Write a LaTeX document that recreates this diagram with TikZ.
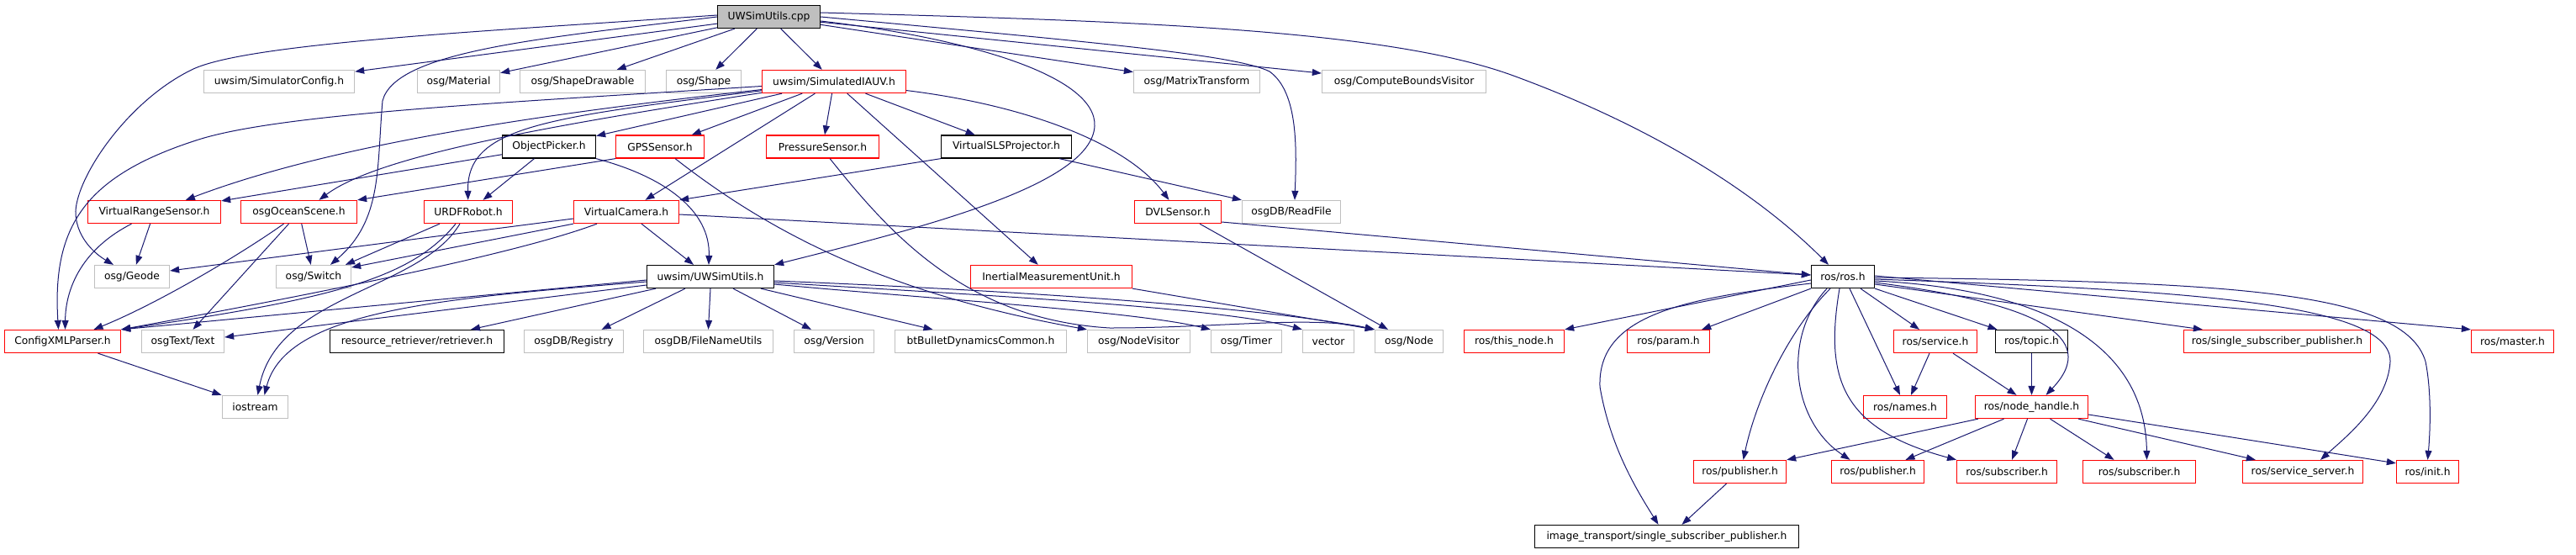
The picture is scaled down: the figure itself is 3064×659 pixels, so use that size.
\documentclass[tikz,border=0pt]{standalone}
\usepackage{fontspec}
\setmainfont{DejaVu Sans}
\usetikzlibrary{arrows.meta}
\definecolor{edgeblue}{HTML}{191970}
\definecolor{boxgray}{HTML}{BFBFBF}
\begin{document}
\begin{tikzpicture}[x=1pt,y=-1pt,
  box/.style={draw, line width=1.3pt, minimum height=27pt, inner sep=0pt, font=\fontsize{12.3}{14}\selectfont, anchor=center},
  redbox/.style={box, draw=red},
  graybox/.style={box, draw=boxgray},
  blackbox/.style={box, draw=black},
  rootbox/.style={box, draw=black, fill=boxgray},
  e/.style={draw=edgeblue, line width=1pt, -{Triangle[length=11pt,width=8pt]}}]
\fill[white] (0,0) rectangle (3064,659);
\useasboundingbox (0,0) rectangle (3064,659);
% row 1
\node[rootbox, minimum width=122pt] (cpp) at (914.5,20) {UWSimUtils.cpp};
% row 2
\node[graybox, minimum width=179pt] (simcfg) at (332,97) {uwsim/SimulatorConfig.h};
\node[graybox, minimum width=98pt] (material) at (545.5,97) {osg/Material};
\node[graybox, minimum width=149pt] (shapedraw) at (693,97) {osg/ShapeDrawable};
\node[graybox, minimum width=89pt] (shape) at (837,97) {osg/Shape};
\node[redbox, minimum width=171pt] (iauv) at (992,97) {uwsim/SimulatedIAUV.h};
\node[graybox, minimum width=150pt] (matrix) at (1423.5,97) {osg/MatrixTransform};
\node[graybox, minimum width=195pt] (cbv) at (1670,97) {osg/ComputeBoundsVisitor};
% row 3
\node[blackbox, minimum width=111pt] (picker) at (653,174.5) {ObjectPicker.h};
\node[redbox, minimum width=105pt] (gps) at (785,174.5) {GPSSensor.h};
\node[redbox, minimum width=134pt] (press) at (978.5,174.5) {PressureSensor.h};
\node[blackbox, minimum width=155pt] (sls) at (1197,174.5) {VirtualSLSProjector.h};
% row 4
\node[redbox, minimum width=158pt] (vrs) at (183.5,252) {VirtualRangeSensor.h};
\node[redbox, minimum width=138pt] (ocean) at (355.5,252) {osgOceanScene.h};
\node[redbox, minimum width=105pt] (urdf) at (557,252) {URDFRobot.h};
\node[redbox, minimum width=125pt] (vcam) at (745,252) {VirtualCamera.h};
\node[redbox, minimum width=103pt] (dvl) at (1401,252) {DVLSensor.h};
\node[graybox, minimum width=117pt] (readfile) at (1536,252) {osgDB/ReadFile};
% row 5
\node[graybox, minimum width=89pt] (geode) at (157,329) {osg/Geode};
\node[graybox, minimum width=89pt] (switch) at (373,329) {osg/Switch};
\node[blackbox, minimum width=151pt] (utilsh) at (845,329) {uwsim/UWSimUtils.h};
\node[redbox, minimum width=192pt] (imu) at (1250.5,329) {InertialMeasurementUnit.h};
\node[blackbox, minimum width=75pt] (ros) at (2192,329) {ros/ros.h};
% row 6
\node[redbox, minimum width=138pt] (cfgxml) at (74.5,406) {ConfigXMLParser.h};
\node[graybox, minimum width=98pt] (text) at (217.5,406) {osgText/Text};
\node[blackbox, minimum width=207pt] (retriever) at (496,406) {resource\_retriever/retriever.h};
\node[graybox, minimum width=118pt] (registry) at (682.5,406) {osgDB/Registry};
\node[graybox, minimum width=154pt] (fnu) at (842.5,406) {osgDB/FileNameUtils};
\node[graybox, minimum width=95pt] (version) at (992,406) {osg/Version};
\node[graybox, minimum width=204pt] (bullet) at (1166.5,406) {btBulletDynamicsCommon.h};
\node[graybox, minimum width=122pt] (nodevis) at (1354.5,406) {osg/NodeVisitor};
\node[graybox, minimum width=84pt] (timer) at (1482.5,406) {osg/Timer};
\node[graybox, minimum width=61pt] (vector) at (1580,406) {vector};
\node[graybox, minimum width=81pt] (node) at (1676,406) {osg/Node};
\node[redbox, minimum width=119pt] (thisnode) at (1801,406) {ros/this\_node.h};
\node[redbox, minimum width=98pt] (param) at (1984.5,406) {ros/param.h};
\node[redbox, minimum width=99pt] (service) at (2302,406) {ros/service.h};
\node[blackbox, minimum width=86pt] (topic) at (2416.5,406) {ros/topic.h};
\node[redbox, minimum width=222pt] (ssp) at (2708.5,406) {ros/single\_subscriber\_publisher.h};
\node[redbox, minimum width=98pt] (master) at (2988.5,406) {ros/master.h};
% row 7
\node[graybox, minimum width=78pt] (iostream) at (303.5,484) {iostream};
\node[redbox, minimum width=99pt] (names) at (2266,484) {ros/names.h};
\node[redbox, minimum width=134pt] (nh) at (2416.5,484) {ros/node\_handle.h};
% row 8
\node[redbox, minimum width=110pt] (pubA) at (2069.5,561) {ros/publisher.h};
\node[redbox, minimum width=110pt] (pubB) at (2233.5,561) {ros/publisher.h};
\node[redbox, minimum width=119pt] (subA) at (2387,561) {ros/subscriber.h};
\node[redbox, minimum width=134pt] (subB) at (2544.5,561) {ros/subscriber.h};
\node[redbox, minimum width=143pt] (srv) at (2739,561) {ros/service\_server.h};
\node[redbox, minimum width=74pt] (init) at (2887.5,561) {ros/init.h};
% row 9
\node[blackbox, minimum width=314pt] (itssp) at (1982.5,638) {image\_transport/single\_subscriber\_publisher.h};

% ---- edges from UWSimUtils.cpp
\draw[e] (cpp) -- (simcfg);
\draw[e] (cpp) -- (material);
\draw[e] (cpp) -- (shapedraw);
\draw[e] (cpp) -- (shape);
\draw[e] (cpp) -- (iauv);
\draw[e] (cpp) -- (matrix);
\draw[e] (cpp) -- (cbv);
\draw[e] (cpp.east) .. controls (1300,50) and (1470,65) .. (1510,85) .. controls (1545,110) and (1542,180) .. ([xshift=4pt]readfile.north);
\draw[e] ([yshift=5pt]cpp.east) .. controls (1350,25) and (1650,35) .. (1800,90) .. controls (1950,145) and (2080,220) .. ([xshift=-17pt]ros.north);
\draw[e] ([yshift=2pt]cpp.west) .. controls (600,36) and (300,50) .. (230,82) .. controls (150,120) and (88,215) .. (90,255) .. controls (92,285) and (115,303) .. ([xshift=-22pt]geode.north);
\draw[e] (cpp.west) .. controls (650,45) and (470,60) .. (455,120) .. controls (448,200) and (455,262) .. ([xshift=20pt]switch.north);
\draw[e] ([yshift=-5pt]cpp.east) .. controls (1150,45) and (1305,90) .. (1302,150) .. controls (1298,220) and (1100,270) .. (utilsh.north east);

% ---- SimulatedIAUV
\draw[e] (iauv) -- (picker);
\draw[e] (iauv) -- (gps);
\draw[e] (iauv) -- (press);
\draw[e] (iauv) -- (vcam);
\draw[e] (iauv) -- (sls);
\draw[e] (iauv) -- (imu);
\draw[e] (iauv) .. controls (1220,125) and (1340,170) .. (dvl);
\draw[e] (iauv) .. controls (650,135) and (400,170) .. (vrs);
\draw[e] (iauv) .. controls (650,150) and (450,185) .. ([xshift=24pt]ocean.north);
\draw[e] (iauv) .. controls (650,140) and (555,150) .. (urdf);
\draw[e] (iauv) .. controls (600,122) and (330,135) .. (233,167) .. controls (100,210) and (62,270) .. ([xshift=-5pt]cfgxml.north);

% ---- ObjectPicker
\draw[e] (picker) -- (vrs);
\draw[e] (picker) -- (urdf);
\draw[e] (picker.south east) .. controls (790,210) and (845,250) .. ([xshift=-2pt]utilsh.north);

% ---- GPSSensor
\draw[e] (gps.south west) -- (ocean.north east);
\draw[e] ([xshift=-35pt]gps.south east) .. controls (920,280) and (1060,350) .. (nodevis.north west);

% ---- PressureSensor
\draw[e] ([xshift=-59pt]press.south east) .. controls (1060,280) and (1150,380) .. (1320,390) .. controls (1450,390) and (1560,375) .. (node.north west);

% ---- VirtualSLSProjector
\draw[e] (sls.south west) -- (vcam.north east);
\draw[e] ([xshift=-15pt]sls.south east) -- (readfile.north west);

% ---- VirtualRangeSensor
\draw[e] (vrs) -- (geode);
\draw[e] ([xshift=-27pt]vrs.south) .. controls (100,295) and (78,340) .. ([xshift=3pt]cfgxml.north);

% ---- osgOceanScene
\draw[e] (ocean) -- (switch);
\draw[e] ([xshift=-18pt]ocean.south) .. controls (290,300) and (190,360) .. ([xshift=37pt]cfgxml.north);
\draw[e] ([xshift=-12pt]ocean.south) -- ([xshift=12pt]text.north);

% ---- URDFRobot
\draw[e] ([xshift=-34pt]urdf.south) -- ([xshift=38pt]switch.north);
\draw[e] ([xshift=-15pt]urdf.south) .. controls (490,330) and (400,355) .. (cfgxml.north east);
\draw[e] ([xshift=-10pt]urdf.south) .. controls (500,345) and (330,350) .. ([xshift=3pt]iostream.north);

% ---- VirtualCamera
\draw[e] ([yshift=-8pt]vcam.west) -- ([yshift=7pt]geode.east);
\draw[e] (vcam.south west) -- ([yshift=11pt]switch.east);
\draw[e] ([xshift=-35pt]vcam.south) .. controls (620,300) and (400,345) .. (cfgxml.north east);
\draw[e] ([xshift=18pt]vcam.south) -- ([xshift=-20pt]utilsh.north);
\draw[e] ([yshift=-3pt]vcam.east) -- ([yshift=2pt]ros.west);

% ---- DVLSensor
\draw[e] ([yshift=-12pt]dvl.east) -- ([yshift=2pt]ros.west);
\draw[e] ([xshift=26pt]dvl.south) -- ([xshift=-25pt]node.north);

% ---- InertialMeasurementUnit
\draw[e] (imu.south east) -- (node.north west);

% ---- UWSimUtils.h
\draw[e] ([yshift=-4pt]utilsh.west) -- (cfgxml.north east);
\draw[e] ([yshift=-6pt]utilsh.west) .. controls (520,355) and (340,370) .. ([xshift=11pt]iostream.north);
\draw[e] ([yshift=-10pt]utilsh.west) -- ([yshift=5pt]text.east);
\draw[e] ([xshift=-65pt]utilsh.south) -- ([xshift=64pt]retriever.north);
\draw[e] ([xshift=-30pt]utilsh.south) -- ([xshift=33pt]registry.north);
\draw[e] (utilsh.south) -- (fnu.north);
\draw[e] ([xshift=27pt]utilsh.south) -- ([xshift=-27pt]version.north);
\draw[e] ([xshift=60pt]utilsh.south) -- ([xshift=-57pt]bullet.north);
\draw[e] ([yshift=-9pt]utilsh.east) .. controls (1100,355) and (1350,370) .. (timer.north west);
\draw[e] ([yshift=-7pt]utilsh.east) .. controls (1150,350) and (1450,365) .. (vector.north west);
\draw[e] ([yshift=-5pt]utilsh.east) .. controls (1200,345) and (1500,365) .. (node.north west);

% ---- ConfigXMLParser
\draw[e] ([xshift=42pt]cfgxml.south) -- ([xshift=-40pt]iostream.north);

% ---- ros/ros.h
\draw[e] ([yshift=-4pt]ros.west) -- (thisnode.north east);
\draw[e] (ros.south west) -- ([xshift=-10pt]param.north east);
\draw[e] ([yshift=-8pt]ros.west) .. controls (2000,355) and (1900,375) .. (1903,460) .. controls (1915,530) and (1945,580) .. ([xshift=-10pt]itssp.north);
\draw[e] ([xshift=-15pt]ros.south) .. controls (2130,390) and (2090,470) .. ([xshift=4pt]pubA.north);
\draw[e] ([xshift=-19pt]ros.south) .. controls (2120,400) and (2130,500) .. ([xshift=-33pt]pubB.north);
\draw[e] ([xshift=-4pt]ros.south) .. controls (2170,450) and (2190,510) .. ([xshift=-60pt]subA.north);
\draw[e] ([xshift=8pt]ros.south) -- ([xshift=-6pt]names.north);
\draw[e] ([xshift=21pt]ros.south) -- ([xshift=-19pt]service.north);
\draw[e] (ros.south east) -- ([xshift=-41pt]topic.north);
\draw[e] ([yshift=-7pt]ros.east) .. controls (2420,360) and (2500,400) .. ([xshift=17pt]nh.north);
\draw[e] ([yshift=-5pt]ros.east) .. controls (2450,345) and (2552,420) .. ([xshift=9pt]subB.north);
\draw[e] ([yshift=-9pt]ros.east) -- ([xshift=23pt]ssp.north west);
\draw[e] ([yshift=-3pt]ros.east) .. controls (2600,345) and (2845,360) .. (2843,430) .. controls (2840,480) and (2790,520) .. ([xshift=21pt]srv.north);
\draw[e] ([yshift=-1pt]ros.east) .. controls (2650,335) and (2860,345) .. (2885,430) .. controls (2893,470) and (2890,520) .. (init.north);
\draw[e] ([yshift=1pt]ros.east) -- (master.north west);

% ---- ros/service.h, ros/topic.h
\draw[e] ([xshift=-7pt]service.south) -- ([xshift=7pt]names.north);
\draw[e] ([xshift=21pt]service.south) -- ([xshift=-18pt]nh.north);
\draw[e] (topic.south) -- (nh.north);

% ---- ros/node_handle.h
\draw[e] ([xshift=4pt]nh.south west) -- (pubA.north east);
\draw[e] ([xshift=-33pt]nh.south) -- ([xshift=33pt]pubB.north);
\draw[e] ([xshift=-5pt]nh.south) -- ([xshift=6pt]subA.north);
\draw[e] ([xshift=22pt]nh.south) -- ([xshift=-30pt]subB.north);
\draw[e] ([xshift=-12pt]nh.south east) -- ([xshift=16pt]srv.north west);
\draw[e] ([yshift=-9pt]nh.east) -- ([yshift=-4pt]init.north west);

% ---- ros/publisher.h
\draw[e] ([xshift=-16pt]pubA.south) -- ([xshift=18pt]itssp.north);
\end{tikzpicture}
\end{document}
